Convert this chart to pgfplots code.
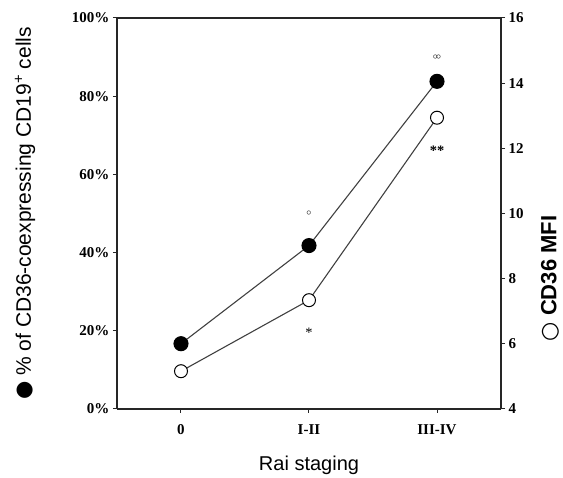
\documentclass[border=0pt]{standalone}
\usepackage{pgfplots}
\pgfplotsset{compat=1.18}
\usepackage{fontspec}
\setmainfont{Liberation Serif}
\newfontfamily\labfont{Liberation Sans}
\newfontfamily\symfont{DejaVu Sans}

\begin{document}
\begin{tikzpicture}
\pgfplotsset{
  base/.style={
    width=384pt, height=391pt, scale only axis,
    xmin=-0.5, xmax=2.5,
    tick align=outside, major tick length=4pt,
    axis line style={line width=1.4pt, black!85},
    tick style={line width=1pt, black!85},
    tick label style={font=\fontsize{15}{17}\selectfont\bfseries},
    /pgf/number format/assume math mode=true,
  },
}
% left axis: percentage (filled circles)
\begin{axis}[base, name=ax,
  ymin=0, ymax=100,
  axis y line*=left, axis x line*=bottom,
  xtick={0,1,2}, xticklabels={0,I-II,III-IV},
  ytick={0,20,40,60,80,100},
  yticklabels={0\%,20\%,40\%,60\%,80\%,100\%},
  xticklabel style={yshift=-8pt},
  clip=false,
]
\addplot[black!75, line width=1.1pt, mark=*, mark size=7pt,
  mark options={fill=black, draw=black, solid}] coordinates {
  (0,16.7) (1,41.8) (2,83.8)
};
\node[font=\normalsize] at (axis cs:1,50) {$\circ$};
\node[font=\normalsize] at (axis cs:2,90) {$\circ\!\circ$};
\node[font=\Large] at (axis cs:1,19.5) {*};
\node[font=\Large\bfseries] at (axis cs:2.0,66) {**};
\end{axis}
% right axis: MFI (open circles)
\begin{axis}[base,
  ymin=4, ymax=16,
  axis y line*=right, axis x line=none,
  ytick={4,6,...,16},
  yticklabel style={anchor=west},
]
\addplot[black!75, line width=1.1pt, mark=*, mark size=6.5pt,
  mark options={fill=white, draw=black, line width=1pt, solid}] coordinates {
  (0,5.16) (1,7.34) (2,12.94)
};
\end{axis}
\draw[line width=1.4pt, black!85] (ax.north west) -- (ax.north east);
\node[rotate=90, font=\fontsize{21}{23}\selectfont\labfont]
  at ([xshift=-92pt]ax.west) {{\symfont ●} \% of CD36-coexpressing CD19\textsuperscript{+} cells};
\node[rotate=90, font=\fontsize{22}{24}\selectfont\labfont\bfseries]
  at ([xshift=49pt, yshift=-65pt]ax.east) {{\symfont\mdseries ○} CD36 MFI};
\node[font=\fontsize{20}{22}\selectfont\labfont]
  at ([yshift=-56pt]ax.south) {Rai staging};
\path (ax.south west) ++(-117pt,-67pt) rectangle ([xshift=62pt, yshift=18pt]ax.north east);
\end{tikzpicture}
\end{document}
